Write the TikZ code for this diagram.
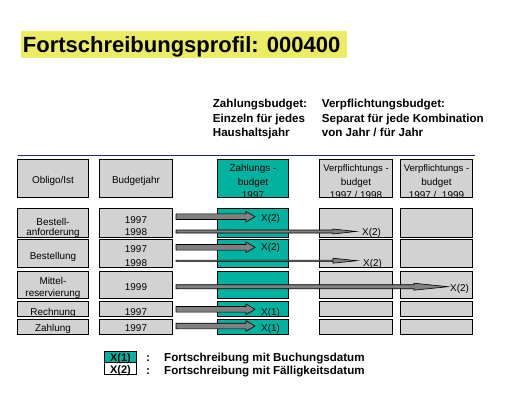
\documentclass[tikz,border=0pt]{standalone}
\usepackage{fontspec}
\setmainfont{Liberation Sans}
\usetikzlibrary{calc}
\definecolor{tealc}{RGB}{0,178,160}
\definecolor{grayc}{RGB}{210,210,210}
\definecolor{arrc}{RGB}{128,128,128}
\definecolor{ylwc}{RGB}{235,235,100}
\definecolor{bluec}{RGB}{30,40,140}
\newcommand\blockarr[6]{%
  \filldraw[arrline,fill=#6] let \p1=(#1),\p2=(#2) in
    (\x1,\y1+#3) -- (\x2-#5,\y1+#3) -- (\x2-#5,\y1+#4) -- (\x2,\y1)
    -- (\x2-#5,\y1-#4) -- (\x2-#5,\y1-#3) -- (\x1,\y1-#3) -- cycle;}
\newcommand\bx[6]{%
  \node[box,fill=#6,minimum width={#4-#2},minimum height={#5-#3}] (#1) at (#2,#3) {};}
\tikzset{
  box/.style={draw=black,line width=0.8pt,anchor=north west,inner sep=0,outer sep=0},
  arrline/.style={draw=black,line width=0.6pt,line join=miter},
  txt/.style={font=\fontsize{9.9}{11}\selectfont,inner sep=0,anchor=base},
  lbl/.style={font=\fontsize{9.9}{11}\selectfont,inner sep=0,anchor=base west},
  sub/.style={font=\fontsize{11.6}{13}\selectfont\bfseries,inner sep=0,anchor=base west},
}
\begin{document}
\begin{tikzpicture}[x=1pt,y=-1pt]
\useasboundingbox (0,0) rectangle (519,401);
% title
\node[fill=ylwc,anchor=north west,inner sep=0,minimum width=325.7,minimum height=26.7] (titlebg) at (21,31) {};
\node[font=\fontsize{22}{26}\selectfont\bfseries,inner sep=0,anchor=base west] (title) at (22.7,52.3) {Fortschreibungsprofil: 000400};
% subtitles
\node[sub] (s11) at (212.7,107.7) {Zahlungsbudget:};
\node[sub] (s12) at (212.7,122) {Einzeln für jedes};
\node[sub] (s13) at (212.7,136.3) {Haushaltsjahr};
\node[sub] (s21) at (321.7,107.7) {Verpflichtungsbudget:};
\node[sub] (s22) at (321.7,122) {Separat für jede Kombination};
\node[sub] (s23) at (321.7,136.3) {von Jahr / für Jahr};
% blue rule
\coordinate (bl1) at (18,155.7);
\coordinate (bl2) at (475,155.7);
\draw[bluec,line width=1.3pt] (bl1) -- (bl2);
% header boxes
\bx{hA}{17.3}{159.3}{88.7}{197.3}{grayc}
\bx{hB}{99.3}{159.3}{172.7}{197.3}{grayc}
\bx{hC}{217.3}{159.3}{288.7}{197.3}{tealc}
\bx{hD}{319.3}{159.3}{392.7}{197.3}{grayc}
\bx{hE}{400.3}{159.3}{472.7}{197.3}{grayc}
% row boxes
\foreach \r/\ya/\yb in {1/208.3/237.3,2/239/267.3,3/271/298.3,4/301/316,5/319/334.3}{
  \bx{A\r}{17.3}{\ya}{88.7}{\yb}{grayc}
  \bx{B\r}{99.3}{\ya}{172.7}{\yb}{grayc}
  \bx{C\r}{217.3}{\ya}{288.7}{\yb}{tealc}
  \bx{D\r}{319.3}{\ya}{392.7}{\yb}{grayc}
  \bx{E\r}{400.3}{\ya}{472.7}{\yb}{grayc}
}
% header texts
\node[txt] (tA) at (53,183.3) {Obligo/Ist};
\node[txt] (tB) at (136,183.3) {Budgetjahr};
\node[txt] (tC1) at (253,171.7) {Zahlungs -};
\node[txt] (tC2) at (253,185.5) {budget};
\node[txt] (tC3) at (253,198.5) {1997};
\node[txt,font=\fontsize{9.5}{11}\selectfont] (tD1) at (356,171.7) {Verpflichtungs -};
\node[txt] (tD2) at (356,185.5) {budget};
\node[txt] (tD3) at (356,198.5) {1997 / 1998};
\node[txt,font=\fontsize{9.5}{11}\selectfont] (tE1) at (436.5,171.7) {Verpflichtungs -};
\node[txt] (tE2) at (436.5,185.5) {budget};
\node[txt] (tE3) at (436.5,198.5) {1997 /\ \ 1999};
% column A texts
\node[txt] (a11) at (53,225) {Bestell-};
\node[txt] (a12) at (53,235.8) {anforderung};
\node[txt] (a2) at (53,259) {Bestellung};
\node[txt] (a31) at (53,284) {Mittel-};
\node[txt] (a32) at (53,296.7) {reservierung};
\node[txt] (a4) at (53,315) {Rechnung};
\node[txt] (a5) at (53,331.5) {Zahlung};
% column B texts
\node[txt] (b11) at (136,223.3) {1997};
\node[txt] (b12) at (136,235) {1998};
\node[txt] (b21) at (136,252.3) {1997};
\node[txt] (b22) at (136,266.7) {1998};
\node[txt] (b3) at (136,290.7) {1999};
\node[txt] (b4) at (136,315.7) {1997};
\node[txt] (b5) at (136,331.7) {1997};
% arrow labels
\node[lbl] (l1) at (261,221) {X(2)};
\node[lbl] (l2) at (362,235) {X(2)};
\node[lbl] (l3) at (261,250.5) {X(2)};
\node[lbl] (l4) at (363,266) {X(2)};
\node[lbl] (l5) at (450,291.5) {X(2)};
\node[lbl] (l6) at (261,315) {X(1)};
\node[lbl] (l7) at (261,331) {X(1)};
% arrow starts
\coordinate (p1) at (176,216.7);
\coordinate (p2) at (176,231.5);
\coordinate (p3) at (176,247.3);
\coordinate (p4) at (176,260.7);
\coordinate (p5) at (176,286.7);
\coordinate (p6) at (176,309.3);
\coordinate (p7) at (176,326);
% arrows
\blockarr{p1}{[xshift=-6pt]l1.west}{2.8pt}{5.3pt}{9pt}{arrc}
\blockarr{p2}{[xshift=-6pt]l2.west}{1.5pt}{2.5pt}{23pt}{arrc}
\blockarr{p3}{[xshift=-6pt]l3.west}{2.8pt}{5.3pt}{9pt}{arrc}
\blockarr{p4}{[xshift=-6pt]l4.west}{0.6pt}{2.5pt}{24pt}{arrc}
\blockarr{p5}{[xshift=-2pt]l5.west}{2pt}{3.5pt}{34pt}{arrc}
\blockarr{p6}{[xshift=-6pt]l6.west}{2.8pt}{5.3pt}{9pt}{arrc}
\blockarr{p7}{[xshift=-6pt]l7.west}{2.8pt}{5.3pt}{9pt}{arrc}
% legend
\bx{lg1}{104.3}{351.7}{136.7}{362.3}{tealc}
\bx{lg2}{104.3}{362.3}{136.7}{374}{white}
\node[font=\fontsize{11}{13}\selectfont\bfseries,inner sep=0,anchor=base] (lx1) at (120.5,361) {X(1)};
\node[font=\fontsize{11}{13}\selectfont\bfseries,inner sep=0,anchor=base] (lx2) at (120.5,373) {X(2)};
\node[sub,anchor=base] (c1) at (148,361.7) {:};
\node[sub,anchor=base] (c2) at (148,374) {:};
\node[sub] (lt1) at (164,361.7) {Fortschreibung mit Buchungsdatum};
\node[sub] (lt2) at (164,374) {Fortschreibung mit Fälligkeitsdatum};
\end{tikzpicture}
\end{document}
